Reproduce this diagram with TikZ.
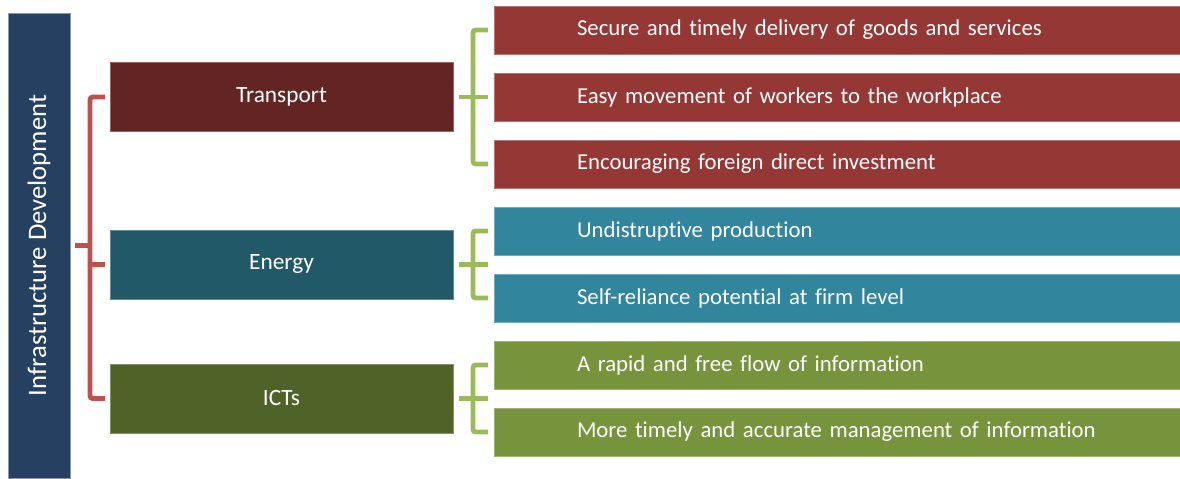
\documentclass[tikz,border=0pt]{standalone}
\usepackage{fontspec}
\setmainfont{Carlito}[Ligatures=NoCommon]
\usetikzlibrary{positioning,calc}

\definecolor{barblue}{HTML}{254061}
\definecolor{transdark}{HTML}{632523}
\definecolor{transitem}{HTML}{953735}
\definecolor{energydark}{HTML}{215968}
\definecolor{energyitem}{HTML}{31859C}
\definecolor{ictdark}{HTML}{4F6228}
\definecolor{ictitem}{HTML}{77933C}
\definecolor{bracered}{HTML}{C0504D}
\definecolor{bracegreen}{HTML}{9BBB59}

\begin{document}
\begin{tikzpicture}[
    node distance=0.475cm,
    bar node/.style={rectangle,fill=barblue,draw=barblue!55!white,line width=0.6pt,outer sep=0pt,rotate=90,minimum width=11.625cm,minimum height=1.55cm,text=white,font=\fontsize{19}{22}\selectfont},
    cat node/.style={rectangle,fill=#1,draw=#1!70!white,line width=0.5pt,outer sep=0pt,minimum width=8.575cm,minimum height=1.725cm,text=white,font=\fontsize{16.6}{19}\selectfont},
    item node/.style={rectangle,fill=#1,draw=#1!70!white,line width=0.5pt,outer sep=0pt,minimum width=17.15cm,minimum height=1.2cm,text width=16.9cm,inner xsep=0.125cm,inner ysep=0pt,align=left,text=white,font=\fontsize{16.2}{19}\selectfont,execute at begin node={\hspace*{1.95cm}}},
    brace/.style={line width=3.5pt,draw=#1,rounded corners=2pt}
]
\useasboundingbox (0,0) rectangle (29.5,-11.95);

% Barra lateral
\node[bar node] (infra) at (0.975,-6.1375) {Infrastructure Development};

% Transporte
\node[item node=transitem] (sec) at (20.925,-0.75) {Secure and timely delivery of goods and services};
\node[item node=transitem, below=of sec] (easy) {Easy movement of workers to the workplace};
\node[item node=transitem, below=of easy] (enc) {Encouraging foreign direct investment};
\node[cat node=transdark, left=1.025cm of easy] (transport) {Transport};

% Energia
\node[item node=energyitem, below=of enc] (undis) {Undistruptive production};
\node[item node=energyitem, below=of undis] (self) {Self-reliance potential at firm level};
\coordinate (enmid) at ($(undis.west)!0.5!(self.west)$);
\node[cat node=energydark, left=1.025cm of enmid] (energy) {Energy};

% ICTs
\node[item node=ictitem, below=of self] (rapid) {A rapid and free flow of information};
\node[item node=ictitem, below=of rapid] (timely) {More timely and accurate management of information};
\coordinate (ictmid) at ($(rapid.west)!0.5!(timely.west)$);
\node[cat node=ictdark, left=1.025cm of ictmid] (icts) {ICTs};

% Llave roja
\draw[brace=bracered] ([xshift=-0.125cm]transport.west) -| ([xshift=-0.5cm]energy.west) |- ([xshift=-0.125cm]icts.west);
\draw[brace=bracered] ([xshift=-0.5cm]energy.west) -- ([xshift=-0.125cm]energy.west);
\draw[brace=bracered] ([xshift=0.125cm]infra.south) -- ++(0.375cm,0);

% Llaves verdes
\draw[brace=bracegreen] ([xshift=-0.15cm]sec.west) -| ([xshift=0.5cm]transport.east) |- ([xshift=-0.15cm]enc.west);
\draw[brace=bracegreen] ([xshift=0.15cm]transport.east) -- ([xshift=-0.15cm]easy.west);
\draw[brace=bracegreen] ([xshift=-0.15cm]undis.west) -| ([xshift=0.5cm]energy.east) |- ([xshift=-0.15cm]self.west);
\draw[brace=bracegreen] ([xshift=0.15cm]energy.east) -- ++(0.725cm,0);
\draw[brace=bracegreen] ([xshift=-0.15cm]rapid.west) -| ([xshift=0.5cm]icts.east) |- ([xshift=-0.15cm]timely.west);
\draw[brace=bracegreen] ([xshift=0.15cm]icts.east) -- ++(0.725cm,0);

\end{tikzpicture}
\end{document}
